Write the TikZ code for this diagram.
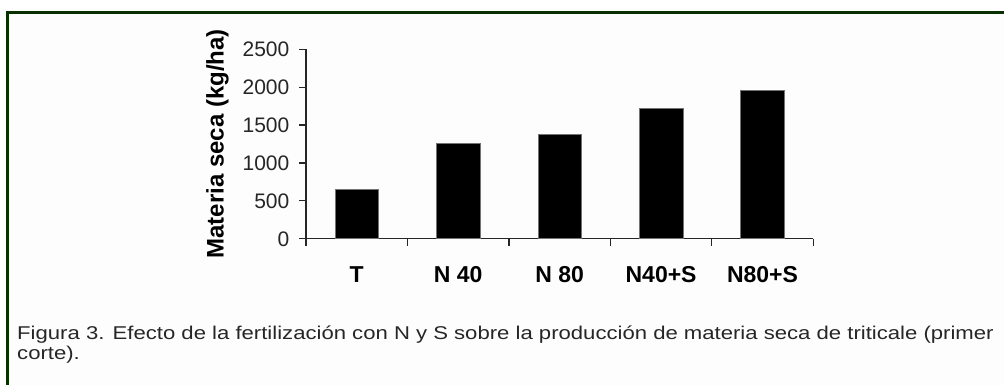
\documentclass[tikz,border=0pt]{standalone}
\usepackage{fontspec}
\setmainfont{Liberation Sans}
\definecolor{framegreen}{RGB}{8,48,0}
\definecolor{panelbg}{RGB}{253,253,253}

\begin{document}
\begin{tikzpicture} [x=1pt, y=1pt,
  bar/.style={fill=black, draw=black!55, line width=0.8pt},
  axisline/.style={draw=black!85, line width=1.2pt},
  ticklab/.style={anchor=east, inner sep=0pt, font=\fontsize{21}{25}\selectfont, text=black!85},
  catlab/.style={anchor=base, inner sep=0pt, font=\fontsize{23}{27}\selectfont\bfseries}]
  \useasboundingbox (0,0) rectangle (1004,385);
% frame
  \fill [white] (0,0) rectangle (1004,385);
  \fill [panelbg] (7.5,0) rectangle (1004,372.5);
  \draw [framegreen, line width=3pt] (7.5,0) -- (7.5,372.5) -- (1004,372.5);

% axes
  \coordinate (origin) at (306,146.2);
  \coordinate (ytop) at (306,335.7);
  \coordinate (xend) at (813.3,146.2);
  \draw [axisline] (ytop) -- (origin) -- (xend);

% y ticks
  \draw [axisline] (299,146.2) -- (306,146.2);
  \draw [axisline] (299,184.1) -- (306,184.1);
  \draw [axisline] (299,222.0) -- (306,222.0);
  \draw [axisline] (299,259.9) -- (306,259.9);
  \draw [axisline] (299,297.8) -- (306,297.8);
  \draw [axisline] (299,335.7) -- (306,335.7);
  \node (y0) at (289.5,146.2) [ticklab] {0};
  \node (y500) at (289.5,184.1) [ticklab] {500};
  \node (y1000) at (289.5,222.0) [ticklab] {1000};
  \node (y1500) at (289.5,259.9) [ticklab] {1500};
  \node (y2000) at (289.5,297.8) [ticklab] {2000};
  \node (y2500) at (289.5,335.7) [ticklab] {2500};

% x ticks
  \draw [axisline] (306,146.2) -- (306,138.7);
  \draw [axisline] (407.45,146.2) -- (407.45,138.7);
  \draw [axisline] (508.9,146.2) -- (508.9,138.7);
  \draw [axisline] (610.35,146.2) -- (610.35,138.7);
  \draw [axisline] (711.8,146.2) -- (711.8,138.7);
  \draw [axisline] (813.3,146.2) -- (813.3,138.7);

% bars
  \draw [bar] (335.0,146.2) rectangle (378.5,195.7);
  \draw [bar] (436.5,146.2) rectangle (480.0,241.7);
  \draw [bar] (537.9,146.2) rectangle (581.4,250.7);
  \draw [bar] (639.4,146.2) rectangle (682.9,276.7);
  \draw [bar] (740.8,146.2) rectangle (784.3,294.7);

% labels
  \node (catT) at (356.7,102.7) [catlab] {T};
  \node (catNa) at (458.2,102.7) [catlab] {N 40};
  \node (catNb) at (559.6,102.7) [catlab] {N 80};
  \node (catNaS) at (661.1,102.7) [catlab] {N40+S};
  \node (catNbS) at (762.5,102.7) [catlab] {N80+S};

  \node (ylab) at (223.5,241.3) [rotate=90, anchor=base, inner sep=0pt,
    font=\fontsize{24}{28}\selectfont\bfseries] {Materia seca (kg/ha)};

% caption, stretched sideways like the scan
  \begin{scope} [shift={(17,25.7)}, xscale=1.195]
    \node (caption) at (0,0) [transform shape, anchor=base west, inner sep=0pt, align=left,
      font=\fontsize{18.5}{20}\selectfont, text=black!85]
      {Figura 3. Efecto de la fertilización con N y S sobre la producción de materia seca de triticale (primer\\corte).};
  \end{scope}
\end{tikzpicture}
\end{document}
